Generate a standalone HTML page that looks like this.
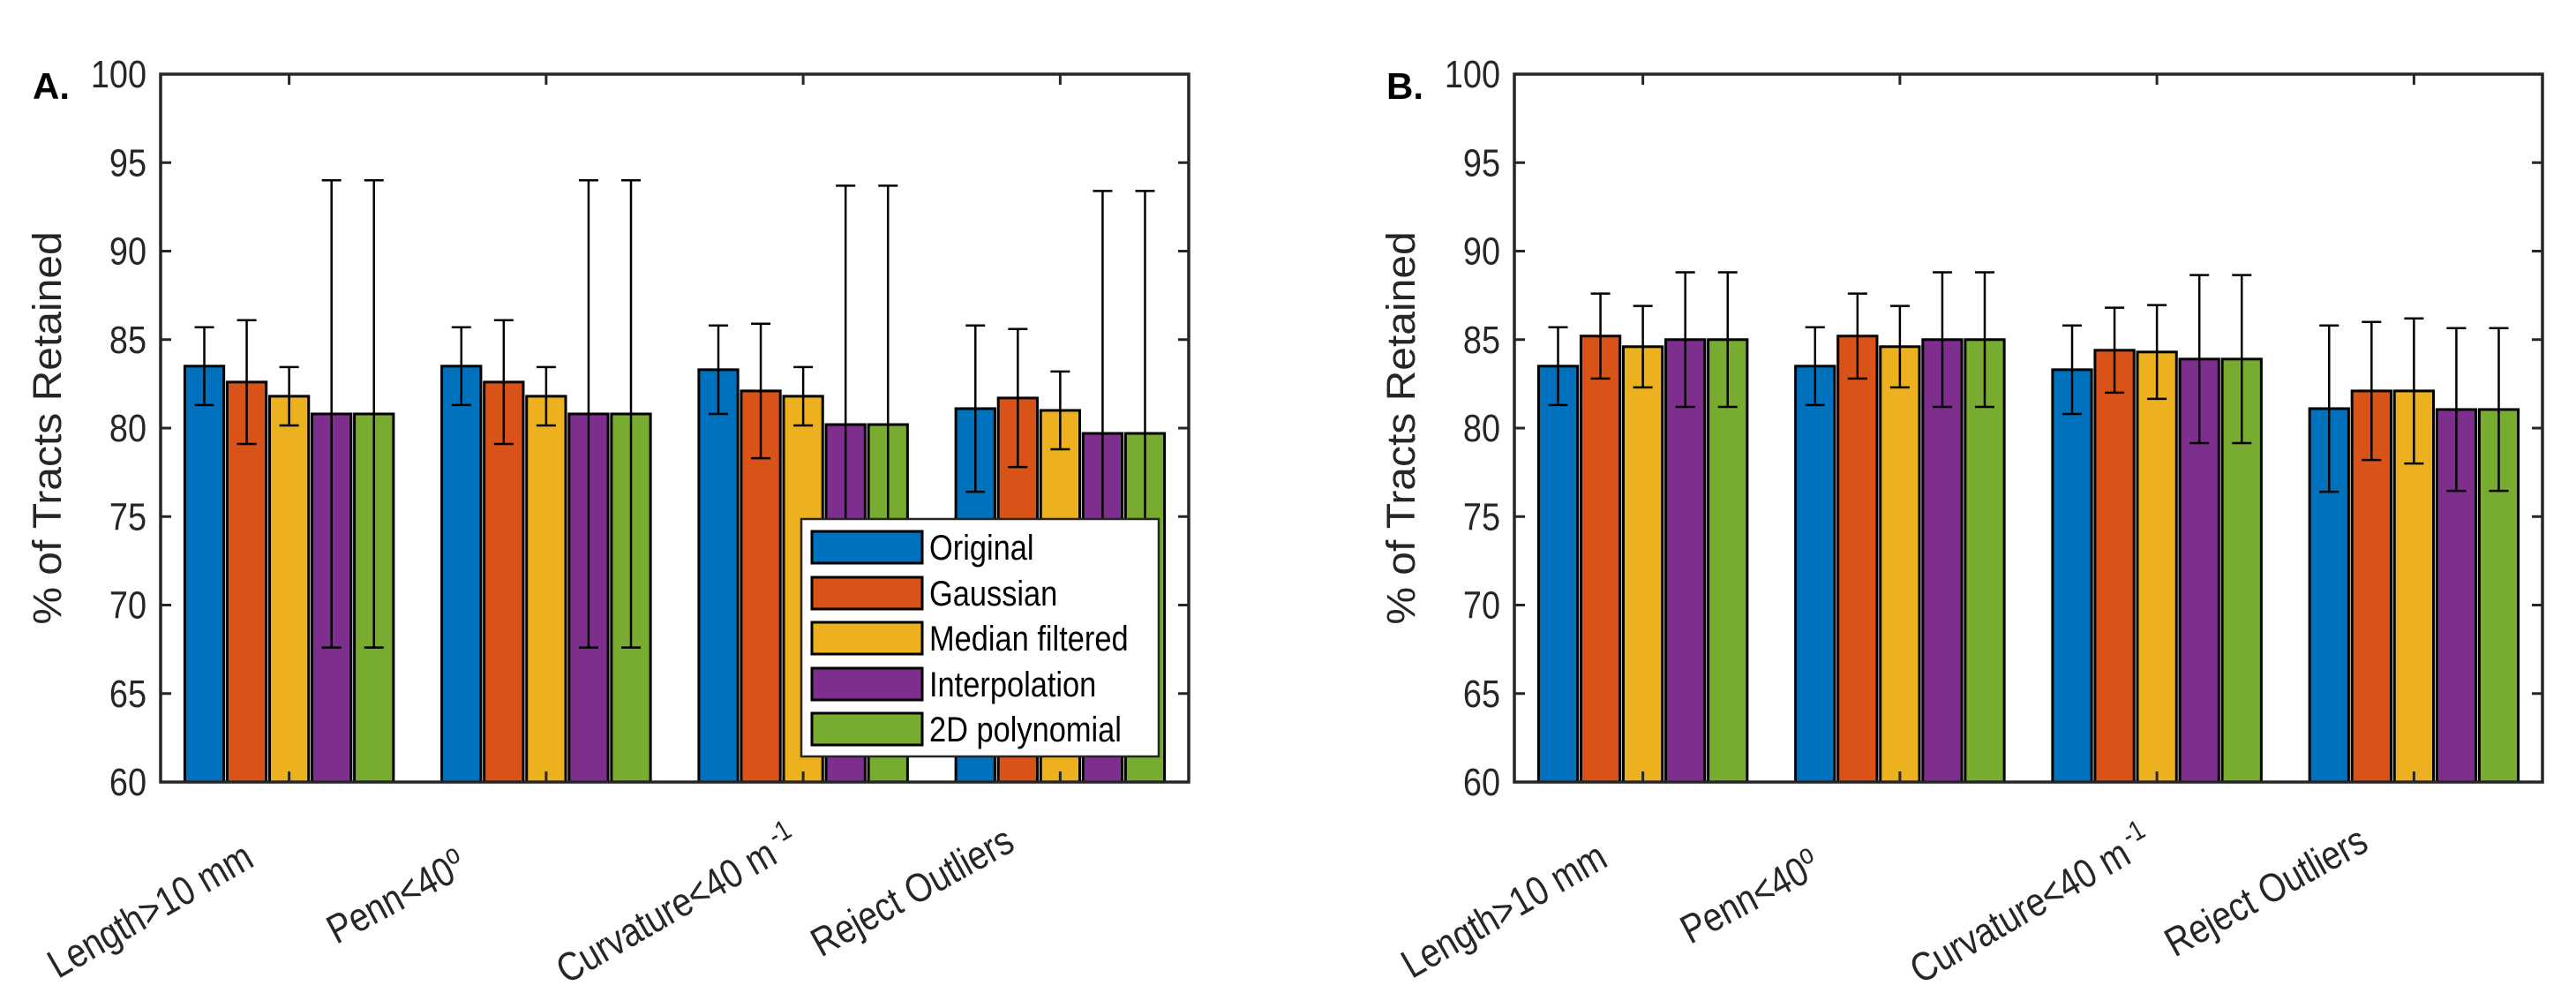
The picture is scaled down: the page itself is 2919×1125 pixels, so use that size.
<!DOCTYPE html>
<html><head><meta charset="utf-8"><style>
html,body{margin:0;padding:0;background:#fff}
svg{display:block;font-family:"Liberation Sans",Arial,sans-serif}
</style></head><body>
<svg id="fig" width="2919" height="1125" viewBox="0 0 2919 1125" xmlns="http://www.w3.org/2000/svg"></svg>
<script>
const categories = ["Length>10 mm","Penn<40","Curvature<40 m","Reject Outliers"];
const seriesNames = ["Original","Gaussian","Median filtered","Interpolation","2D polynomial"];
const colors = ["#0072BD","#D95319","#EDB120","#7E2F8E","#77AC30"];
const yTicks = [60,65,70,75,80,85,90,95,100];
// Panel A: values[series][category]
const valuesA = [
  [83.5,83.5,83.3,81.1],
  [82.6,82.6,82.1,81.7],
  [81.8,81.8,81.8,81.0],
  [80.8,80.8,80.2,79.7],
  [80.8,80.8,80.2,79.7]
];
const errA = [
  [2.2,2.2,2.5,4.7],
  [3.5,3.5,3.8,3.9],
  [1.65,1.65,1.65,2.2],
  [13.2,13.2,13.5,13.7],
  [13.2,13.2,13.5,13.7]
];
// Panel B
const valuesB = [
  [83.5,83.5,83.3,81.1],
  [85.2,85.2,84.4,82.1],
  [84.6,84.6,84.3,82.1],
  [85.0,85.0,83.9,81.05],
  [85.0,85.0,83.9,81.05]
];
const errB = [
  [2.2,2.2,2.5,4.7],
  [2.4,2.4,2.4,3.9],
  [2.3,2.3,2.65,4.1],
  [3.8,3.8,4.75,4.6],
  [3.8,3.8,4.75,4.6]
];

const NS="http://www.w3.org/2000/svg";
const svg=document.getElementById('fig');
function mk(tag,attrs,parent){const e=document.createElementNS(NS,tag);for(const k in attrs)e.setAttribute(k,attrs[k]);(parent||svg).appendChild(e);return e;}

function panel(ox, letter, values, errs, showLegend, pname){
  const L=ox, R=ox+1165, T=84, B=886;
  const g=mk('g',{});
  
  
  const xs=v=>L+(v-0.5)/4*(R-L);
  const ys=v=>B-(v-60)/40*(B-T);
  const slot=0.165, bw=0.152;
  for(let s=0;s<values.length;s++){
    for(let c=0;c<categories.length;c++){
      const cx=1+c+(s-2)*slot;
      const x0=xs(cx-bw/2), x1=xs(cx+bw/2), y=ys(values[s][c]);
      const r=mk('rect',{x:x0,y:y,width:x1-x0,height:B-y,fill:colors[s],stroke:'#000','stroke-width':3},g);
      
      
    }
  }
  for(let s=0;s<values.length;s++){
    for(let c=0;c<categories.length;c++){
      const cx=xs(1+c+(s-2)*slot);
      const yt=ys(values[s][c]+errs[s][c]), yb=ys(values[s][c]-errs[s][c]);
      const eg=mk('g',{stroke:'#000','stroke-width':2.5,fill:'none'},g);
      
      
      mk('line',{x1:cx,x2:cx,y1:yt,y2:yb},eg);
      mk('line',{x1:cx-11,x2:cx+11,y1:yt,y2:yt},eg);
      mk('line',{x1:cx-11,x2:cx+11,y1:yb,y2:yb},eg);
    }
  }
  const box=mk('rect',{x:L,y:T,width:R-L,height:B-T,fill:'none',stroke:'#262626','stroke-width':3.5},g);
  
  
  for(const t of yTicks){
    const y=ys(t);
    mk('line',{x1:L,x2:L+12,y1:y,y2:y,stroke:'#262626','stroke-width':3},g);
    mk('line',{x1:R,x2:R-12,y1:y,y2:y,stroke:'#262626','stroke-width':3},g);
    const tx=mk('text',{x:0,y:0,'text-anchor':'end','font-size':44,fill:'#262626',transform:`translate(${L-16},${y+15}) scale(0.86,1)`},g);
    tx.textContent=t;
    
    
  }
  for(let c=0;c<4;c++){
    const x=xs(1+c);
    mk('line',{x1:x,x2:x,y1:B,y2:B-12,stroke:'#262626','stroke-width':3},g);
    mk('line',{x1:x,x2:x,y1:T,y2:T+12,stroke:'#262626','stroke-width':3},g);
  }
  const anchors=[[290-182,980],[532-182,990],[908-182,962],[1152-182,962]];
  const angles=[30,28,30,29];
  for(let c=0;c<4;c++){
    const ax=ox+anchors[c][0], ay=anchors[c][1];
    const t=mk('text',{x:0,y:0,'text-anchor':'end','font-size':46,fill:'#262626',transform:`translate(${ax},${ay}) rotate(-${angles[c]}) scale(0.84,1)`},g);
    
    
    t.appendChild(document.createTextNode(categories[c]));
    if(c===1){const sp=mk('tspan',{dy:-18,'font-size':32},t);sp.textContent='o';}
    if(c===2){const sp=mk('tspan',{dy:-18,dx:6,'font-size':32},t);sp.textContent='-1';}
  }
  const yl=mk('text',{x:0,y:0,'text-anchor':'middle','font-size':48,fill:'#262626',transform:`translate(${L-113},${(T+B)/2}) rotate(-90) scale(1,0.95)`},g);
  yl.textContent='% of Tracts Retained';
  
  
  const pl=mk('text',{x:L-145,y:T+28,'font-size':42,'font-weight':'bold',fill:'#000'},g);
  pl.textContent=letter;
  
  
  if(showLegend){
    const lg=mk('g',{},g);
    
    
    mk('rect',{x:908,y:588,width:405,height:269,fill:'#fff',stroke:'#262626','stroke-width':2.5},lg);
    const rows=[620,672,723,775,826];
    for(let s=0;s<5;s++){
      const e=mk('g',{},lg);
      
      
      mk('rect',{x:920,y:rows[s]-18,width:125,height:36,fill:colors[s],stroke:'#000','stroke-width':3},e);
      const t=mk('text',{x:0,y:0,'font-size':40,fill:'#000',transform:`translate(1053,${rows[s]+14}) scale(0.86,1)`},e);
      t.textContent=seriesNames[s];
    }
  }
}
panel(182,'A.',valuesA,errA,true,'panel-a');
panel(1716,'B.',valuesB,errB,false,'panel-b');
</script>
</body></html>
